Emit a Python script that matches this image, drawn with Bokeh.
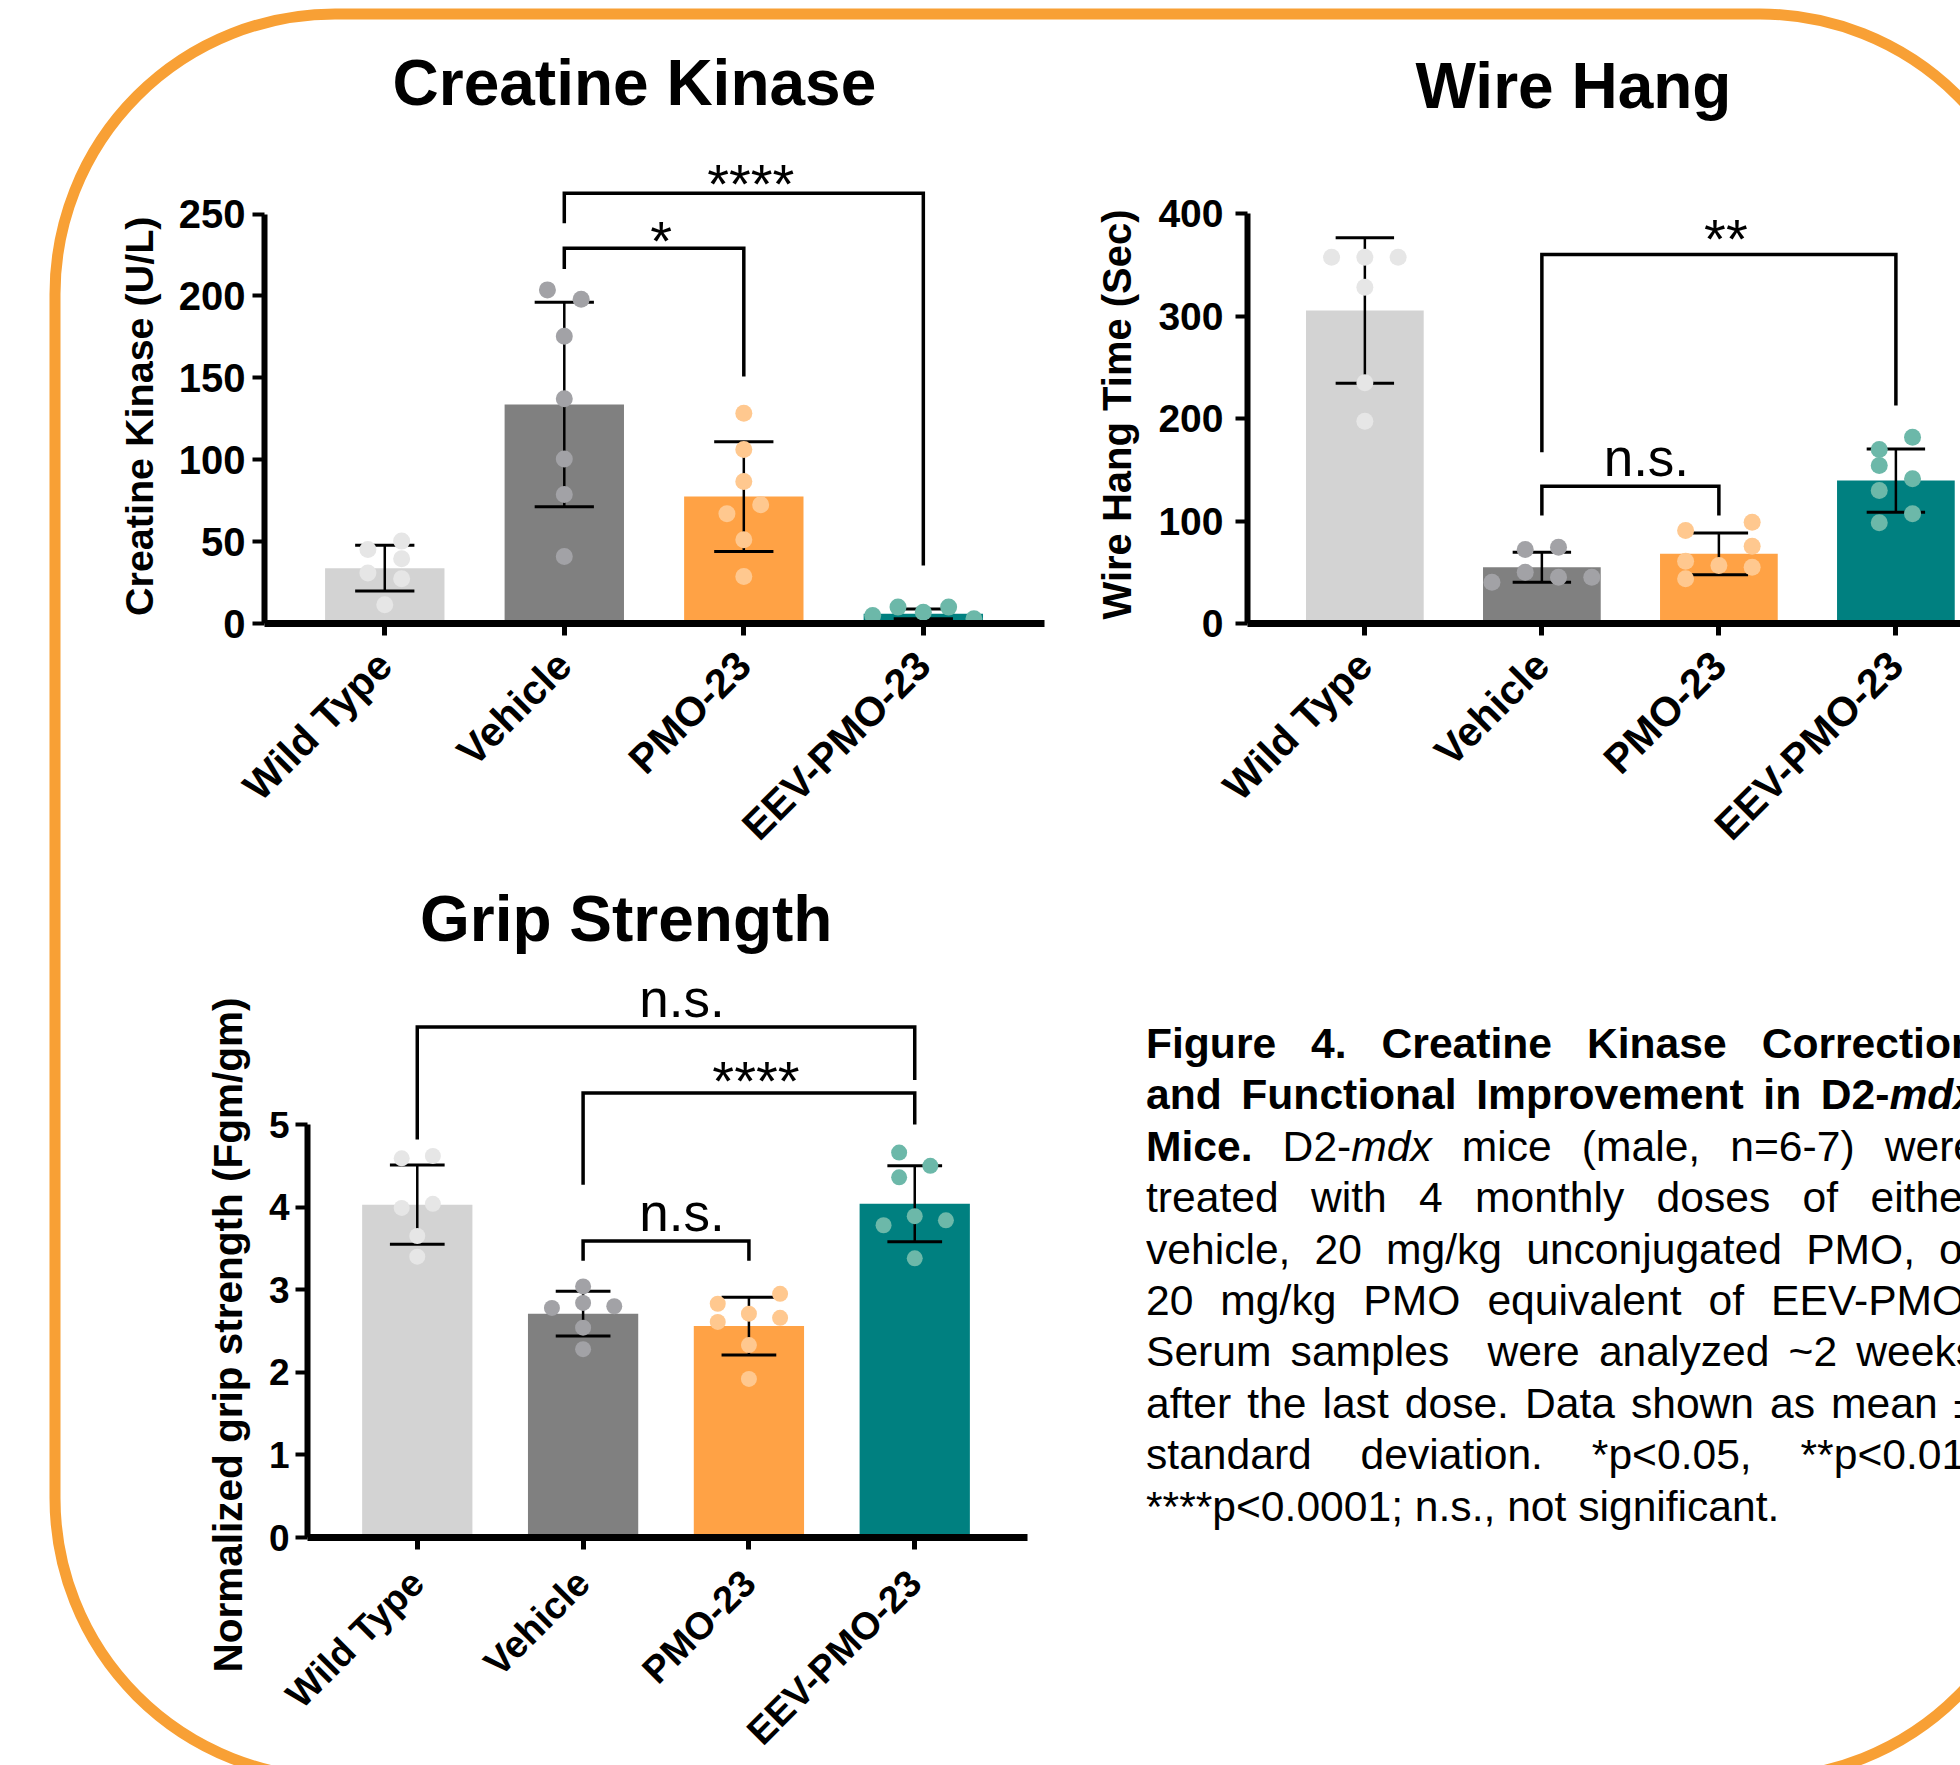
import math
from urllib.parse import quote
from bokeh.plotting import figure
from bokeh.models import Range1d, FixedTicker, Div, Spacer, Title
from bokeh.layouts import row, column
from bokeh.core.properties import value
from bokeh.embed import file_html
from bokeh.resources import INLINE

FONT = "Liberation Sans"

# ---------------- data ----------------
groups = ["Wild Type", "Vehicle", "PMO-23", "EEV-PMO-23"]
bar_colors = ["#D3D3D3", "#808080", "#FFA245", "#008080"]
dot_colors = ["#E6E6E6", "#A2A2A6", "#FFC88F", "#6CB8A9"]

ck_title = "Creatine Kinase"
ck_ylabel = "Creatine Kinase (U/L)"
ck_mean = [33.8, 133.7, 77.5, 5.9]
ck_sd = [14.0, 62.4, 33.5, 3.0]
ck_points = [
    [45.2, 50.3, 39.5, 30.9, 27.3, 11.4],
    [203.7, 198.0, 175.4, 137.2, 100.5, 78.8, 40.9],
    [128.4, 106.2, 86.7, 67.0, 72.5, 51.1, 28.7],
    [4.9, 10.0, 6.9, 10.0, 2.9],
]
ck_jitter = [[-1, 1, 1, -1, 1, 0], [-1, 1, 0, 0, 0, 0, 0],
             [0, 0, 0, -1, 1, 0, 0], [-3, -1.5, 0, 1.5, 3]]
ck_ticks = [0, 50, 100, 150, 200, 250]
# (group a, group b, bracket level, leg end a, leg end b, label, label baseline)
ck_sig = [
    (1, 3, 262.7, 244.4, 35.4, "****", 252.7),
    (1, 2, 229.1, 216.5, 150.8, "*", 218.1),
]

wh_title = "Wire Hang"
wh_ylabel = "Wire Hang Time (Sec)"
wh_mean = [305.7, 55.0, 68.0, 139.6]
wh_sd = [71.0, 14.7, 20.4, 30.9]
wh_points = [
    [357.7, 357.7, 357.7, 328.4, 235.0, 197.6],
    [72.3, 74.5, 50.1, 45.2, 40.3, 45.2],
    [90.8, 98.9, 75.5, 60.8, 56.6, 55.0, 43.6],
    [181.9, 169.9, 154.3, 141.3, 129.9, 107.1, 98.3],
]
wh_jitter = [[-2, 0, 2, 0, 0, 0], [-1, 1, -1, 1, -3, 3],
             [-2, 2, 2, -2, 0, 2, -2], [1, -1, -1, 1, -1, 1, -1]]
wh_ticks = [0, 100, 200, 300, 400]
wh_sig = [
    (1, 3, 360.4, 167.3, 212.9, "**", 350.6),
    (1, 2, 134.1, 105.5, 105.5, "n.s.", 147.8),
]

gs_title = "Grip Strength"
gs_ylabel = "Normalized grip strength (Fgm/gm)"
gs_mean = [4.03, 2.71, 2.56, 4.04]
gs_sd = [0.48, 0.27, 0.35, 0.46]
gs_points = [
    [4.59, 4.62, 3.99, 4.04, 3.65, 3.40],
    [3.04, 2.78, 2.84, 2.80, 2.54, 2.28],
    [2.95, 2.83, 2.71, 2.61, 2.66, 2.33, 1.92],
    [4.66, 4.50, 4.36, 3.78, 3.89, 3.84, 3.38],
]
gs_jitter = [[-1, 1, -1, 1, 0, 0], [0, -2, 0, 2, 0, 0],
             [2, -2, 0, -2, 2, 0, 0], [-1, 1, -1, -2, 0, 2, 0]]
gs_ticks = [0, 1, 2, 3, 4, 5]
gs_sig = [
    (0, 3, 6.18, 4.82, 5.54, "n.s.", 6.34),
    (1, 3, 5.38, 4.27, 5.00, "****", 5.22),
    (1, 2, 3.59, 3.35, 3.35, "n.s.", 3.75),
]

caption_lines = [
    "<b>Figure 4. Creatine Kinase Correction</b>",
    "<b>and Functional Improvement in D2-<i>mdx</i></b>",
    "<b>Mice.</b> D2-<i>mdx</i> mice (male, n=6-7) were",
    "treated with 4 monthly doses of either",
    "vehicle, 20 mg/kg unconjugated PMO, or",
    "20 mg/kg PMO equivalent of EEV-PMO.",
    "Serum samples&nbsp; were analyzed ~2 weeks",
    "after the last dose. Data shown as mean ±",
    "standard deviation. *p&lt;0.05, **p&lt;0.01,",
    "****p&lt;0.0001; n.s., not significant.",
]

# ---------------- styling constants ----------------
JIT = 0.094      # one jitter step, in category units
BAR_W = 0.665
CAP = 0.165


def make_chart(title, ylabel, means, sds, points, jitter, ticks, sig,
               xr, y_end, fw, fh, ml, mr, mt, mb, title_off, title_so,
               ylab_off, ylab_so, tick_fs, xlab_fs, ylab_fs, dot_size,
               ytick_so, xtick_so):
    p = figure(frame_width=fw, frame_height=fh,
               min_border_left=ml, min_border_right=mr,
               min_border_top=mt, min_border_bottom=mb,
               x_range=Range1d(*xr), y_range=Range1d(0, y_end),
               output_backend="svg", toolbar_location=None,
               background_fill_color=None, border_fill_color=None,
               outline_line_color=None, title=title)
    p.xgrid.visible = False
    p.ygrid.visible = False

    xs = list(range(len(groups)))
    p.vbar(x=xs, top=means, width=BAR_W, fill_color=bar_colors, line_color=None)

    lo = [m - s for m, s in zip(means, sds)]
    hi = [m + s for m, s in zip(means, sds)]
    p.segment(x0=xs, y0=lo, x1=xs, y1=hi, line_color="black", line_width=2.5)
    p.segment(x0=[x - CAP for x in xs] * 2, y0=lo + hi,
              x1=[x + CAP for x in xs] * 2, y1=lo + hi,
              line_color="black", line_width=3)

    dx, dy, dc = [], [], []
    for i, (vals, jit) in enumerate(zip(points, jitter)):
        for v, j in zip(vals, jit):
            dx.append(i + j * JIT)
            dy.append(v)
            dc.append(dot_colors[i])
    p.scatter(x=dx, y=dy, size=dot_size, fill_color=dc, line_color=None)

    bxs, bys = [], []
    for a, b, lvl, ea, eb, lab, lab_y in sig:
        bxs.append([a, a, b, b])
        bys.append([ea, lvl, lvl, eb])
    p.multi_line(xs=bxs, ys=bys, line_color="black", line_width=3.5,
                 line_join="miter")
    for a, b, lvl, ea, eb, lab, lab_y in sig:
        ns = lab == "n.s."
        p.text(x=[(a + b) / 2], y=[lab_y], text=[lab],
               x_offset=16 if ns else 7, y_offset=-15 if ns else -26,
               text_font=value(FONT),
               text_font_size="53px" if ns else "56px", text_align="center",
               text_baseline="alphabetic", text_color="black")

    # title
    p.title.text_font = FONT
    p.title.text_font_size = "64px"
    p.title.text_font_style = "bold"
    p.title.text_color = "black"
    p.title.align = "left"
    p.title.offset = title_off
    p.title.standoff = title_so

    # x axis
    xa = p.xaxis[0]
    xa.ticker = FixedTicker(ticks=xs)
    xa.major_label_overrides = {i: g for i, g in enumerate(groups)}
    xa.major_label_orientation = math.pi / 4
    xa.major_label_text_font = FONT
    xa.major_label_text_font_size = xlab_fs
    xa.major_label_text_font_style = "bold"
    xa.major_label_text_color = "black"
    xa.major_label_standoff = xtick_so
    xa.axis_line_width = 7
    xa.axis_line_color = "black"
    xa.major_tick_line_width = 5
    xa.major_tick_line_color = "black"
    xa.major_tick_out = 12
    xa.major_tick_in = 0
    xa.minor_tick_line_color = None

    # y axis
    ya = p.yaxis[0]
    ya.ticker = FixedTicker(ticks=ticks)
    ya.bounds = (ticks[0], ticks[-1])
    ya.major_label_text_font = FONT
    ya.major_label_text_font_size = tick_fs
    ya.major_label_text_font_style = "bold"
    ya.major_label_text_color = "black"
    ya.major_label_standoff = ytick_so
    ya.axis_line_width = 6
    ya.axis_line_color = "black"
    ya.major_tick_line_width = 4
    ya.major_tick_line_color = "black"
    ya.major_tick_out = 12
    ya.major_tick_in = 0
    ya.minor_tick_line_color = None

    p.add_layout(Title(text=ylabel, align="left", offset=ylab_off,
                       text_font=FONT, text_font_size=ylab_fs,
                       text_font_style="bold", text_color="black",
                       standoff=ylab_so), "left")
    return p


pA = make_chart(ck_title, ck_ylabel, ck_mean, ck_sd, ck_points, ck_jitter, ck_ticks, ck_sig,
                (-0.67, 3.675), 288.8, 785, 473, 264, 31, 150, 295, 128, 64,
                7.5, 29, "40px", "41px", "39.5px", 17, 7, 23)
pB = make_chart(wh_title, wh_ylabel, wh_mean, wh_sd, wh_points, wh_jitter, wh_ticks, wh_sig,
                (-0.663, 3.365), 461.9, 717, 473, 163, 0, 150, 295, 168, 58,
                4, 33, "39px", "41px", "40px", 17, 12, 23)
pC = make_chart(gs_title, gs_ylabel, gs_mean, gs_sd, gs_points, gs_jitter, gs_ticks, gs_sig,
                (-0.662, 3.68), 6.804, 720, 562, 307, 119, 125, 228, 112.5, 42,
                -135, 30, "37px", "38px", "40.5px", 16, 6, 27)

line_divs = []
for k, ln in enumerate(caption_lines):
    if k == len(caption_lines) - 1:
        line_divs.append(f'<div style="text-align:left;white-space:nowrap;">{ln}</div>')
    else:
        line_divs.append(f'<div style="text-align:justify;text-align-last:justify;">{ln}</div>')
caption_html = ('<div style="width:831px;margin:0;padding:0;font-family:\'Liberation Sans\',Arial,sans-serif;'
                'font-size:42.6px;line-height:51.4px;color:#000;">' + "".join(line_divs) + '</div>')
cap = Div(text=caption_html, width=814, height=560,
          styles={"overflow": "hidden", "margin": "0", "padding": "0"})

svg = ("<svg xmlns='http://www.w3.org/2000/svg' width='1960' height='1765'>"
       "<rect x='55' y='14' width='1985' height='1764' rx='280' ry='280' fill='none' "
       "stroke='#F8A035' stroke-width='11'/></svg>")
bg = 'url("data:image/svg+xml;charset=utf-8,' + quote(svg) + '")'

r1 = row(pA, pB)
r2 = row(pC, column(Spacer(width=814, height=168), cap), margin=(-68, 0, 0, 0))
layout = column(r1, r2, width=1960, height=1765,
                styles={"overflow": "hidden", "background-image": bg,
                        "background-repeat": "no-repeat", "background-color": "white"})

open("out.html", "w").write(file_html(layout, INLINE))
